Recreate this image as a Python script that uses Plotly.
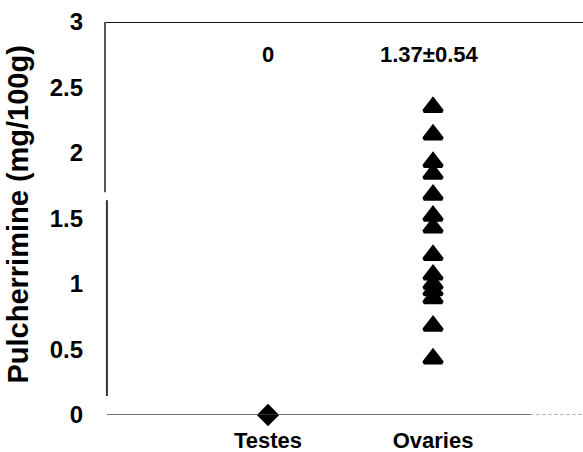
import plotly.graph_objects as go

# Group labels and measured pulcherrimine contents (mg/100g)
groups = ["Testes", "Ovaries"]
testes_values = [0.0]
ovaries_values = [2.35, 2.14, 1.93, 1.84, 1.68, 1.52, 1.43, 1.22,
                  1.07, 1.00, 0.95, 0.89, 0.68, 0.43]
summary_text = ["0", "1.37±0.54"]
y_ticks = [0, 0.5, 1, 1.5, 2, 2.5, 3]
y_tick_text = ["0", "0.5", "1", "1.5", "2", "2.5", "3"]

FONT = "Liberation Sans"

fig = go.Figure()

fig.add_trace(go.Scatter(
    x=[groups[0]] * len(testes_values), y=testes_values,
    mode="markers",
    marker=dict(symbol="diamond", size=15, color="black",
                line=dict(color="black", width=2)),
    cliponaxis=False, showlegend=False,
))
fig.add_trace(go.Scatter(
    x=[groups[1]] * len(ovaries_values), y=ovaries_values,
    mode="markers",
    marker=dict(symbol="triangle-up", size=16, color="black",
                line=dict(color="black", width=3.5)),
    cliponaxis=False, showlegend=False,
))

# Group summaries (mean ± SD) above each column
for g, t in zip(groups, summary_text):
    fig.add_annotation(x=g, xshift=-4 if g == groups[1] else 0, y=2.75, text=t,
                       showarrow=False,
                       font=dict(family=FONT, size=22, color="black", weight="bold"))

# Vertical axis title
fig.add_annotation(xref="paper", yref="paper", x=-0.182, y=0.51,
                   xanchor="center", yanchor="middle",
                   text="Pulcherrimine (mg/100g)", textangle=-90, showarrow=False,
                   font=dict(family=FONT, size=29, color="black", weight="bold"))

# Frame: top border, broken left axis, baseline
shapes = [
    dict(type="line", xref="paper", yref="y", x0=0, x1=1, y0=3, y1=3,
         line=dict(color="#111", width=2)),
    dict(type="line", xref="paper", yref="y", x0=0, x1=0, y0=3, y1=1.70,
         line=dict(color="#555", width=2)),
    dict(type="line", xref="paper", yref="y", x0=0.004, x1=0.004, y0=1.64, y1=0.145,
         line=dict(color="#333", width=2)),
    dict(type="line", xref="paper", yref="y", x0=0.004, x1=0.89, y0=0, y1=0,
         line=dict(color="#444", width=1.5)),
    dict(type="line", xref="paper", yref="y", x0=0.89, x1=1, y0=0, y1=0,
         line=dict(color="#888", width=1.5, dash="dot")),
    dict(type="line", xref="paper", yref="y", x0=0.43, x1=0.60, y0=3.012, y1=3.012,
         line=dict(color="#999", width=1, dash="dot")),
]

fig.update_layout(
    width=583, height=452,
    margin=dict(l=105, r=0, t=22, b=37),
    paper_bgcolor="white", plot_bgcolor="white",
    shapes=shapes,
    xaxis=dict(
        type="category", categoryorder="array", categoryarray=groups,
        range=[-0.988, 1.909],
        showgrid=False, zeroline=False, showline=False, ticks="",
        ticklabelstandoff=10,
        tickfont=dict(family=FONT, size=22, color="black", weight="bold"),
    ),
    yaxis=dict(
        range=[0, 3], tickvals=y_ticks, ticktext=y_tick_text,
        showgrid=False, zeroline=False, showline=False, ticks="",
        ticklabelstandoff=21,
        tickfont=dict(family=FONT, size=24, color="black", weight="bold"),
    ),
)

fig.write_html("out.html")
